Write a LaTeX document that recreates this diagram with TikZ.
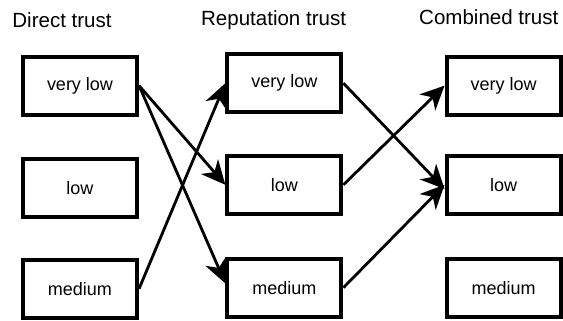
\documentclass[tikz,border=0pt]{standalone}
\usepackage{fontspec}
\setmainfont{Liberation Sans}
\usetikzlibrary{arrows.meta}

\tikzset{
  level/.style={draw=black,line width=2.9pt,minimum width=2.85cm,minimum height=1.45cm,font=\fontsize{12.8}{15}\selectfont},
  head/.style={font=\fontsize{14.6}{17}\selectfont},
  link/.style={line width=2pt,-{Stealth[length=6mm,width=5.6mm,inset=1.8mm]}}
}

\begin{document}
\begin{tikzpicture}
  \useasboundingbox (0,0) rectangle (14.075,-8.025);

  % column titles
  \node[head] (tdir) at (1.55,-0.5) {Direct trust};
  \node[head] (trep) at (6.84,-0.5) {Reputation trust};
  \node[head] (tcom) at (12.22,-0.43) {Combined trust};

  % direct trust
  \node[level] (dvl) at (2.0,-2.14) {very low};
  \node[level] (dl)  at (2.0,-4.69) {low};
  \node[level] (dm)  at (2.0,-7.22) {medium};

  % reputation trust
  \node[level] (rvl) at (7.11,-2.08) {very low};
  \node[level] (rl)  at (7.11,-4.62) {low};
  \node[level] (rm)  at (7.11,-7.19) {medium};

  % combined trust
  \node[level] (cvl) at (12.59,-2.14) {very low};
  \node[level] (cl)  at (12.59,-4.62) {low};
  \node[level] (cm)  at (12.59,-7.21) {medium};

  % direct -> reputation
  \draw[link] (dvl.east) -- (rl.west);
  \draw[link] (dvl.east) -- ([yshift=3pt]rm.west);
  \draw[link] (dm.east) -- (rvl.west);

  % reputation -> combined
  \draw[link] (rvl.east) -- ([yshift=-3pt]cl.west);
  \draw[link] (rl.east) -- (cvl.west);
  \draw[link] (rm.east) -- (cl.west);

\end{tikzpicture}
\end{document}
